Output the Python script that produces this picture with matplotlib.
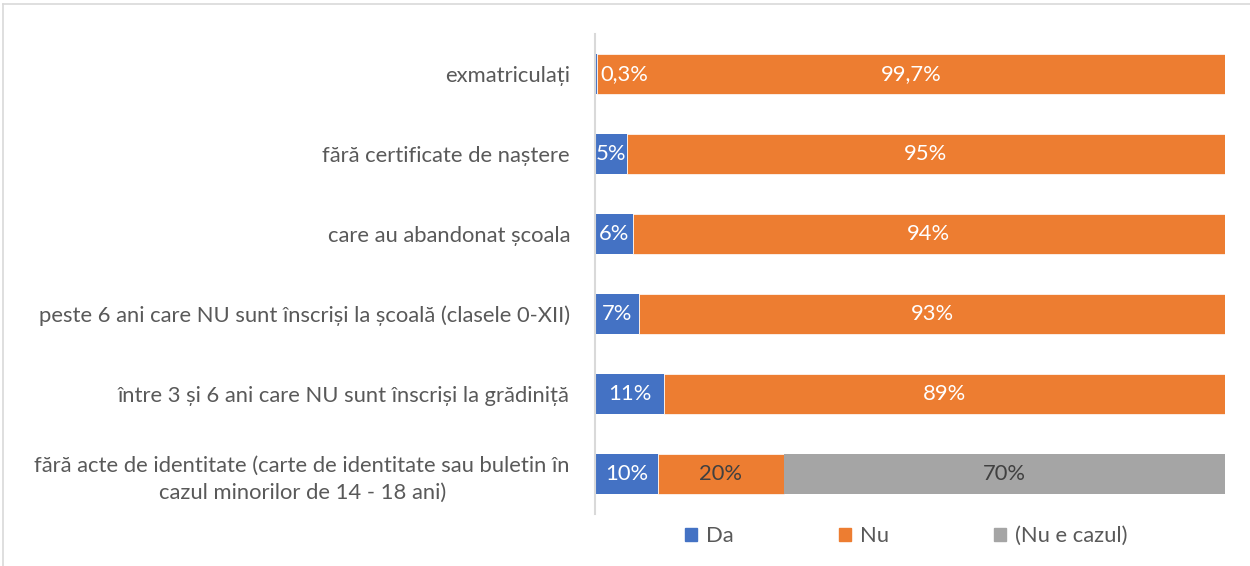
import matplotlib.pyplot as plt
from matplotlib.lines import Line2D
from matplotlib.patches import Patch

plt.rcParams.update({
    "font.family": ["Lato", "DejaVu Sans"],
    "font.size": 15.8,
})

categories = [
    "exmatriculați",
    "fără certificate de naștere",
    "care au abandonat școala",
    "peste 6 ani care NU sunt înscriși la școală (clasele 0-XII)",
    "între 3 și 6 ani care NU sunt înscriși la grădiniță",
    "fără acte de identitate (carte de identitate sau buletin în\ncazul minorilor de 14 - 18 ani)",
]
da = [0.3, 5, 6, 7, 11, 10]
nu = [99.7, 95, 94, 93, 89, 20]
nu_e_cazul = [0, 0, 0, 0, 0, 70]

c_da = "#4472C4"
c_nu = "#ED7D31"
c_gray = "#A5A5A5"
txt = "#595959"


def fmt(v):
    s = ("%.1f" % v).rstrip("0").rstrip(".")
    return s.replace(".", ",") + "%"


fig = plt.figure(figsize=(12.5, 5.66), dpi=100)
ax = fig.add_axes([0.476, 0.092, 0.504, 0.848])

y = list(range(len(categories)))
h = 0.5
ax.barh(y, da, height=h, color=c_da, label="Da")
ax.barh(y, nu, left=da, height=h, color=c_nu, label="Nu",
        edgecolor="white", linewidth=0.5)
left3 = [a + b for a, b in zip(da, nu)]
ax.barh(y, nu_e_cazul, left=left3, height=h, color=c_gray, label="(Nu e cazul)")

# value labels
for i in y:
    if da[i] < 1:
        ax.text(da[i] + 0.6, i, fmt(da[i]), ha="left", va="center", color="white")
    else:
        ax.text(da[i] / 2, i, fmt(da[i]), ha="center", va="center", color="white")
    col = "#404040" if nu_e_cazul[i] > 0 else "white"
    ax.text(da[i] + nu[i] / 2, i, fmt(nu[i]), ha="center", va="center", color=col)
    if nu_e_cazul[i] > 0:
        ax.text(left3[i] + nu_e_cazul[i] / 2, i, fmt(nu_e_cazul[i]),
                ha="center", va="center", color="#404040")

ax.set_xlim(0, 100)
ax.set_ylim(len(categories) - 0.5, -0.5)
ax.set_yticks(y)
ax.set_yticklabels(categories, color=txt, multialignment="center", linespacing=1.45)
ax.tick_params(axis="y", length=0, pad=18)
ax.set_xticks([])
for s in ["top", "right", "bottom"]:
    ax.spines[s].set_visible(False)
ax.spines["left"].set_color("#D9D9D9")
ax.spines["left"].set_linewidth(1.5)

handles = [Patch(color=c_da), Patch(color=c_nu), Patch(color=c_gray)]
fig.legend(handles, ["Da", "Nu", "(Nu e cazul)"], loc="center",
           bbox_to_anchor=(0.725, 0.053), ncol=3, frameon=False,
           handlelength=0.55, handleheight=0.55, handletextpad=0.4,
           columnspacing=4.8, labelcolor=txt)

# outer chart frame
fig.add_artist(Line2D([0.0024, 0.0024], [0, 0.993], color="#D9D9D9", lw=1.2))
fig.add_artist(Line2D([0.0024, 1], [0.993, 0.993], color="#D9D9D9", lw=1.2))

fig.savefig("out.png", dpi=100)
